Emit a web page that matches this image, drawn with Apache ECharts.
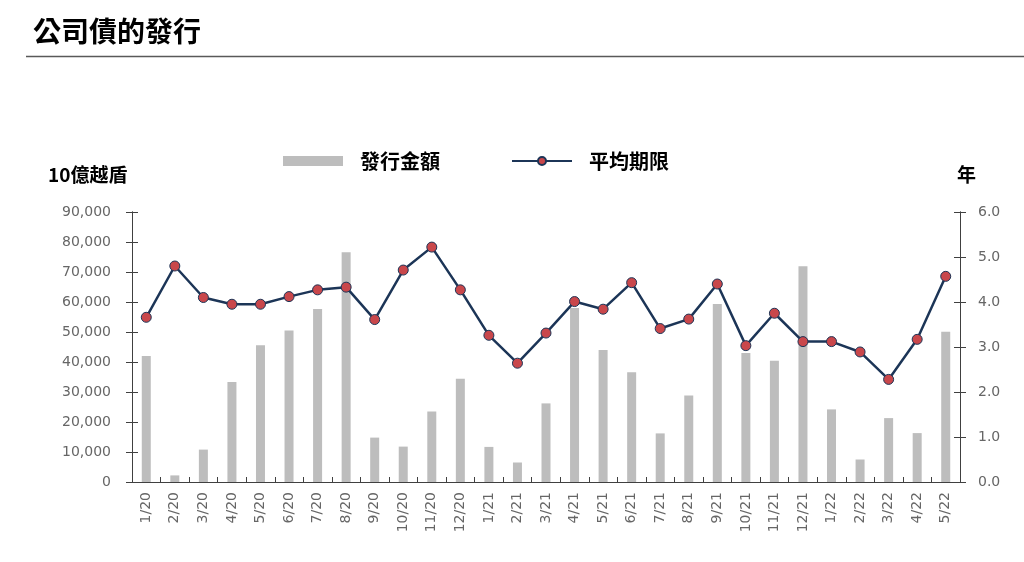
<!DOCTYPE html>
<html>
<head>
<meta charset="utf-8">
<script src="https://cdn.jsdelivr.net/npm/echarts@6/dist/echarts.min.js"></script>
<style>
  html, body { margin: 0; padding: 0; background: #fff; }
  #main { width: 1024px; height: 562px; }
</style>
</head>
<body>
<div id="main"></div>
<script>
// 月份
const months = ['1/20','2/20','3/20','4/20','5/20','6/20','7/20','8/20','9/20','10/20','11/20','12/20',
  '1/21','2/21','3/21','4/21','5/21','6/21','7/21','8/21','9/21','10/21','11/21','12/21',
  '1/22','2/22','3/22','4/22','5/22'];
// 發行金額 (10億越盾)
const issueAmount = [42000, 2200, 10800, 33300, 45600, 50500, 57700, 76600, 14800, 11800, 23500, 34400,
  11700, 6500, 26200, 58000, 44000, 36600, 16200, 28800, 59300, 43000, 40400, 71900,
  24200, 7500, 21300, 16300, 50100];
// 平均期限 (年)
const avgTerm = [3.66, 4.80, 4.10, 3.95, 3.95, 4.12, 4.27, 4.33, 3.61, 4.71, 5.22, 4.27,
  3.26, 2.64, 3.31, 4.01, 3.84, 4.43, 3.41, 3.62, 4.40, 3.03, 3.75, 3.12,
  3.12, 2.89, 2.28, 3.17, 4.57];

const cjk = '"Noto Sans CJK TC", "Noto Sans", sans-serif';
const tickFont = '"DejaVu Sans", sans-serif';
const axisColor = '#404040';
const labelColor = '#666666';

let chart = echarts.init(document.getElementById('main'));

function leftAxis(inside, show) {
  return {
    type: 'value',
    position: 'left',
    min: 0, max: 90000, interval: 10000,
    axisLine: { show: true, lineStyle: { color: axisColor, width: 1 } },
    axisTick: { show: true, inside: inside, length: 6, lineStyle: { color: axisColor } },
    axisLabel: {
      show: show, margin: 21, color: labelColor, fontSize: 14, fontFamily: tickFont,
      formatter: function (v) { return v.toLocaleString('en-US'); }
    },
    splitLine: { show: false }
  };
}
function rightAxis(inside, show) {
  return {
    type: 'value',
    position: 'right',
    min: 0, max: 6, interval: 1,
    axisLine: { show: true, lineStyle: { color: axisColor, width: 1 } },
    axisTick: { show: true, inside: inside, length: 6, lineStyle: { color: axisColor } },
    axisLabel: {
      show: show, margin: 18, color: labelColor, fontSize: 14, fontFamily: tickFont,
      formatter: function (v) { return v.toFixed(1); }
    },
    splitLine: { show: false }
  };
}

let option = {
  backgroundColor: '#fff',
  animation: false,
  textStyle: { fontFamily: cjk },
  graphic: [
    { type: 'text', left: 33, top: 17,
      style: { text: '公司債的發行', font: 'bold 28px ' + cjk, fill: '#000' } },
    { type: 'line', shape: { x1: 26, y1: 56.5, x2: 1024, y2: 56.5 },
      style: { stroke: '#595959', lineWidth: 1.5 } },
    { type: 'text', left: 48, top: 165,
      style: { text: '10億越盾', font: 'bold 19px ' + cjk, fill: '#000' } },
    { type: 'text', left: 957, top: 165,
      style: { text: '年', font: 'bold 19px ' + cjk, fill: '#000' } }
  ],
  legend: {
    left: 278, top: 146,
    itemWidth: 60, itemHeight: 10, itemGap: 71,
    textStyle: { fontSize: 20, fontWeight: 'bold', color: '#000', fontFamily: cjk, padding: [0, 0, 0, 12] },
    data: [
      { name: '發行金額', icon: 'rect' },
      { name: '平均期限' }
    ]
  },
  grid: { left: 132, right: 64, top: 212, bottom: 80 },
  xAxis: {
    type: 'category',
    data: months,
    axisLine: { lineStyle: { color: axisColor, width: 1 } },
    axisTick: { show: true, inside: true, length: 5, lineStyle: { color: axisColor } },
    axisLabel: { rotate: 90, interval: 0, margin: 10, color: labelColor, fontSize: 14, fontFamily: tickFont }
  },
  yAxis: [leftAxis(false, true), leftAxis(true, false), rightAxis(false, true), rightAxis(true, false)],
  series: [
    {
      name: '發行金額',
      type: 'bar',
      yAxisIndex: 0,
      barWidth: 9,
      itemStyle: { color: '#bdbdbd' },
      data: issueAmount
    },
    {
      name: '平均期限',
      type: 'line',
      yAxisIndex: 2,
      symbol: 'circle',
      symbolSize: 10,
      lineStyle: { color: '#1c3557', width: 2.5 },
      itemStyle: { color: '#c9474b', borderColor: '#1c3557', borderWidth: 1 },
      data: avgTerm
    }
  ]
};

chart.setOption(option);
</script>
</body>
</html>
